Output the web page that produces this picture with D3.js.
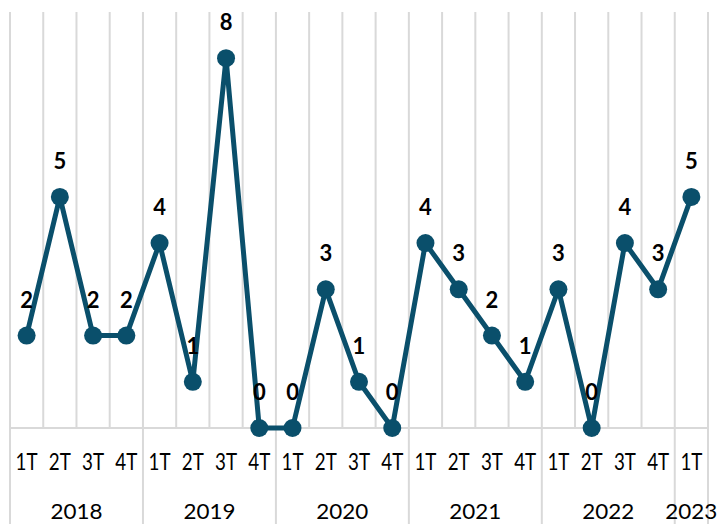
<!DOCTYPE html>
<html><head><meta charset="utf-8">
<script src="https://cdn.jsdelivr.net/npm/d3@7"></script>
<style>body{margin:0;background:#fff}svg{display:block}</style>
</head><body>
<svg id="c" width="718" height="524"></svg>
<script>
const quarters = ["1T","2T","3T","4T","1T","2T","3T","4T","1T","2T","3T","4T","1T","2T","3T","4T","1T","2T","3T","4T","1T"];
const years = ["2018","2019","2020","2021","2022","2023"];
const yearCounts = [4,4,4,4,4,1];
const values = [2,5,2,2,4,1,8,0,0,3,1,0,4,3,2,1,3,0,4,3,5];

const W = 718, H = 524;
const svg = d3.select("#c");
const idx = d3.range(values.length);
const x = d3.scaleBand().domain(idx).range([10, 708]).padding(0);
const y = d3.scaleLinear().domain([0, 9]).range([428, 12]);
const grid = "#d9d9d9";
const col = "#0a4f6b";
const font = "Lato, 'Liberation Sans', sans-serif";

// vertical gridlines at category boundaries
const bounds = d3.range(values.length + 1).map(i => i < values.length ? x(i) : x(values.length - 1) + x.bandwidth());
svg.append("g").selectAll("line").data(bounds).join("line")
  .attr("x1", d => d).attr("x2", d => d)
  .attr("y1", y(9)).attr("y2", y(0))
  .attr("stroke", grid).attr("stroke-width", 2);

// year separators
let acc = 0;
const yearStarts = yearCounts.map(c => { const s = acc; acc += c; return s; });
const sepIdx = yearStarts.concat([values.length]);
svg.append("g").selectAll("line").data(sepIdx).join("line")
  .attr("x1", i => bounds[i]).attr("x2", i => bounds[i])
  .attr("y1", y(0)).attr("y2", H)
  .attr("stroke", grid).attr("stroke-width", 2);

// axis line
svg.append("line").attr("x1", bounds[0]).attr("x2", bounds[values.length])
  .attr("y1", y(0)).attr("y2", y(0)).attr("stroke", grid).attr("stroke-width", 2);

// quarter labels
svg.append("g").selectAll("text").data(quarters).join("text")
  .attr("x", (d, i) => x(i) + x.bandwidth() / 2)
  .attr("y", 470)
  .attr("text-anchor", "middle")
  .attr("font-family", font).attr("font-size", 23).attr("fill", "#000")
  .attr("textLength", 22).attr("lengthAdjust", "spacingAndGlyphs")
  .text(d => d);

// year labels
svg.append("g").selectAll("text").data(years).join("text")
  .attr("x", (d, i) => (bounds[yearStarts[i]] + bounds[yearStarts[i] + yearCounts[i]]) / 2)
  .attr("y", 519)
  .attr("text-anchor", "middle")
  .attr("font-family", font).attr("font-size", 22).attr("fill", "#000")
  .attr("textLength", 52).attr("lengthAdjust", "spacingAndGlyphs")
  .text(d => d);

// line
const line = d3.line().x((d, i) => x(i) + x.bandwidth() / 2).y(d => y(d));
svg.append("path").datum(values).attr("d", line)
  .attr("fill", "none").attr("stroke", col).attr("stroke-width", 5)
  .attr("stroke-linejoin", "round");

// markers
svg.append("g").selectAll("circle").data(values).join("circle")
  .attr("cx", (d, i) => x(i) + x.bandwidth() / 2).attr("cy", d => y(d))
  .attr("r", 9).attr("fill", col);

// data labels
svg.append("g").selectAll("text").data(values).join("text")
  .attr("x", (d, i) => x(i) + x.bandwidth() / 2).attr("y", d => y(d) - 28)
  .attr("text-anchor", "middle")
  .attr("font-family", font).attr("font-size", 22).attr("font-weight", "bold").attr("fill", "#000")
  .text(d => d);
</script>
</body></html>
